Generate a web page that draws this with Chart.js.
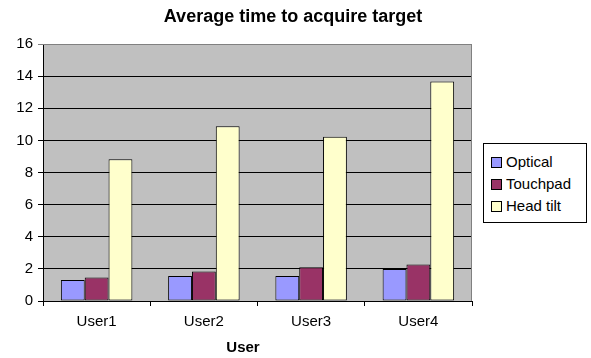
<!DOCTYPE html>
<html>
<head>
<meta charset="utf-8">
<script src="https://cdn.jsdelivr.net/npm/chart.js@4"></script>
<style>
  html, body { margin: 0; padding: 0; background: #fff; }
  #wrap { position: relative; width: 591px; height: 358px; }
  #legend {
    position: absolute; left: 483px; top: 143px; width: 102px; height: 78px;
    border: 1px solid #000; background: #fff;
    font: 15px "Liberation Sans", Arial, sans-serif; color: #000;
  }
  #legend .row { position: absolute; left: 7px; height: 17px; line-height: 17px; white-space: nowrap; }
  #legend .sw { display: inline-block; width: 9px; height: 9px; border: 1px solid #000; vertical-align: -1px; margin-right: 4px; }
</style>
</head>
<body>
<div id="wrap">
  <canvas id="chart" width="591" height="358"></canvas>
  <div id="legend"></div>
</div>
<script>
const USERS    = ['User1', 'User2', 'User3', 'User4'];
const OPTICAL  = [1.31, 1.56, 1.56, 1.99];
const TOUCHPAD = [1.47, 1.83, 2.10, 2.28];
const HEADTILT = [8.82, 10.88, 10.23, 13.66];
const Y_TICKS  = [0, 2, 4, 6, 8, 10, 12, 14, 16];

const SERIES = [
  { label: 'Optical',   data: OPTICAL,  color: '#9999FF' },
  { label: 'Touchpad',  data: TOUCHPAD, color: '#993366' },
  { label: 'Head tilt', data: HEADTILT, color: '#FFFFCC' }
];

const FONT = '"Liberation Sans", Arial, sans-serif';

// grey plot area behind the bars, grey frame on top/right, titles
const plotFrame = {
  id: 'plotFrame',
  beforeDraw(chart) {
    const { ctx, chartArea: a } = chart;
    ctx.save();
    ctx.fillStyle = '#C0C0C0';
    ctx.fillRect(a.left, a.top, a.right - a.left, a.bottom - a.top);
    ctx.restore();
  },
  afterDraw(chart) {
    const { ctx, chartArea: a } = chart;
    ctx.save();
    ctx.strokeStyle = '#808080';
    ctx.lineWidth = 1;
    ctx.beginPath();
    ctx.moveTo(a.left, a.top + 0.5);
    ctx.lineTo(a.right - 0.5, a.top + 0.5);
    ctx.lineTo(a.right - 0.5, a.bottom);
    ctx.stroke();

    ctx.fillStyle = '#000';
    ctx.textAlign = 'center';
    ctx.textBaseline = 'alphabetic';
    ctx.font = 'bold 18px ' + FONT;
    ctx.fillText('Average time to acquire target', 293, 22);
    ctx.font = 'bold 15px ' + FONT;
    ctx.fillText('User', 243, 352);
    ctx.restore();
  }
};

new Chart(document.getElementById('chart'), {
  type: 'bar',
  data: {
    labels: USERS,
    datasets: SERIES.map(s => ({
      label: s.label,
      data: s.data,
      backgroundColor: s.color,
      borderColor: '#000',
      borderWidth: 1,
      borderSkipped: false,
      categoryPercentage: 3 / 4.5,
      barPercentage: 1
    }))
  },
  options: {
    responsive: false,
    animation: false,
    layout: { padding: { top: 44, right: 119, left: 0, bottom: 0 } },
    plugins: { legend: { display: false }, title: { display: false }, tooltip: { enabled: false } },
    scales: {
      x: {
        offset: true,
        grid: { display: true, drawOnChartArea: false, offset: true, color: '#000', tickLength: 5 },
        border: { color: '#000' },
        ticks: { color: '#000', font: { family: FONT, size: 15 }, padding: 7 },
        afterFit(scale) { scale.height = 57; }
      },
      y: {
        min: 0, max: 16,
        afterBuildTicks(scale) { scale.ticks = Y_TICKS.map(v => ({ value: v })); },
        grid: { color: c => c.tick && c.tick.value === 16 ? '#808080' : '#000', tickLength: 5 },
        border: { color: '#000' },
        ticks: { color: '#000', font: { family: FONT, size: 15 }, padding: 5 },
        afterFit(scale) { scale.width = 43; }
      }
    }
  },
  plugins: [plotFrame]
});

// boxed legend on the right
const legend = document.getElementById('legend');
SERIES.forEach((s, i) => {
  const row = document.createElement('div');
  row.className = 'row';
  row.style.top = (9 + i * 22) + 'px';
  row.innerHTML = `<span class="sw" style="background:${s.color}"></span>${s.label}`;
  legend.appendChild(row);
});
</script>
</body>
</html>
